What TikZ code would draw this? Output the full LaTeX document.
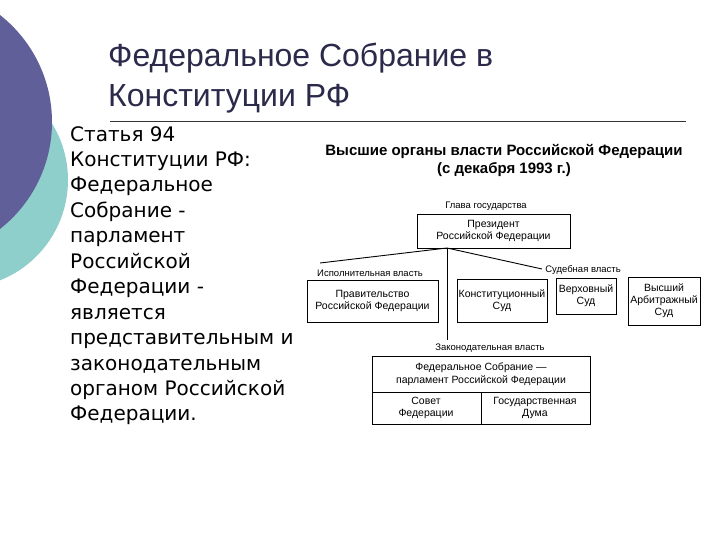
\documentclass[tikz,border=0pt]{standalone}
\usepackage{fontspec}
\setmainfont{Liberation Sans}
\newfontfamily\dejavu{DejaVu Sans}
\definecolor{circpurple}{HTML}{615F99}
\definecolor{circteal}{HTML}{8ECFCB}
\definecolor{titlecol}{HTML}{2B2A4A}
\begin{document}
\begin{tikzpicture}[x=1pt,y=-1pt,
  box/.style={draw, line width=0.9pt, inner sep=0pt, align=center, font=\fontsize{10.5}{12}\selectfont},
  lbl/.style={inner sep=0pt, font=\fontsize{9.5}{11}\selectfont},
  cell/.style={inner sep=0pt, align=center, font=\fontsize{10.5}{12.5}\selectfont},
  conn/.style={line width=0.9pt}]
\useasboundingbox (0,0) rectangle (720,540);
\clip (0,0) rectangle (720,540);
\fill[white] (0,0) rectangle (720,540);
% decorative circles
\fill[circteal] (-40,180) circle[radius=108pt];
\fill[circpurple] (-84,122) circle[radius=136pt];
% title
\node[anchor=base west, inner sep=0pt, text=titlecol, font=\fontsize{32}{38}\selectfont] (t1) at (108,67) {Федеральное Собрание в};
\node[anchor=base west, inner sep=0pt, text=titlecol, font=\fontsize{32}{38}\selectfont] (t2) at (108,107) {Конституции РФ};
\draw[line width=0.8pt, black!80] (110,121) -- (686,121);
% body text
\node[anchor=north west, inner sep=0pt, align=left, font=\dejavu\fontsize{20}{25.45}\selectfont] (body) at (70,126)
 {Статья 94\\Конституции РФ:\\Федеральное\\Собрание -\\парламент\\Российской\\Федерации -\\является\\представительным и\\законодательным\\органом Российской\\Федерации.};
% diagram heading
\node[inner sep=0pt, align=center, font=\bfseries\fontsize{15}{18}\selectfont] (head) at (504,160)
 {Высшие органы власти Российской Федерации\\(с декабря 1993 г.)};
% president
\node[lbl] (glava) at (486,206) {Глава государства};
\node[box, minimum width=153pt, minimum height=34pt] (pres) at (493.5,231) {Президент\\Российской Федерации};
\coordinate (j) at (447,248);
\coordinate (ex) at (320,263);
\coordinate (ju) at (542,269);
\coordinate (lg) at (447,340);
\draw[conn] (j) -- (ex);
\draw[conn] (j) -- (ju);
\draw[conn] (j) -- (lg);
\node[lbl] (exlbl) at (370,273) {Исполнительная власть};
\node[lbl] (julbl) at (583,270) {Судебная власть};
% second row boxes
\node[box, minimum width=131pt, minimum height=42pt] (gov) at (372.5,301) {Правительство\\Российской Федерации};
\node[box, minimum width=90pt, minimum height=43pt] (ks) at (502,300.5) {Конституционный\\Суд};
\node[box, minimum width=60pt, minimum height=36pt] (vs) at (586,296) {Верховный\\Суд};
\node[box, minimum width=72pt, minimum height=48pt] (vas) at (664,301) {Высший\\Арбитражный\\Суд};
% parliament
\node[lbl] (leglbl) at (490,348) {Законодательная власть};
\draw[line width=0.9pt] (372,356) rectangle (590,424);
\draw[line width=0.9pt] (372,392) -- (590,392);
\draw[line width=0.9pt] (481,392) -- (481,424);
\node[cell] (fs) at (481,374) {Федеральное Собрание —\\парламент Российской Федерации};
\node[cell] (sf) at (426,408) {Совет\\Федерации};
\node[cell] (gd) at (535,408) {Государственная\\Дума};
\end{tikzpicture}
\end{document}
